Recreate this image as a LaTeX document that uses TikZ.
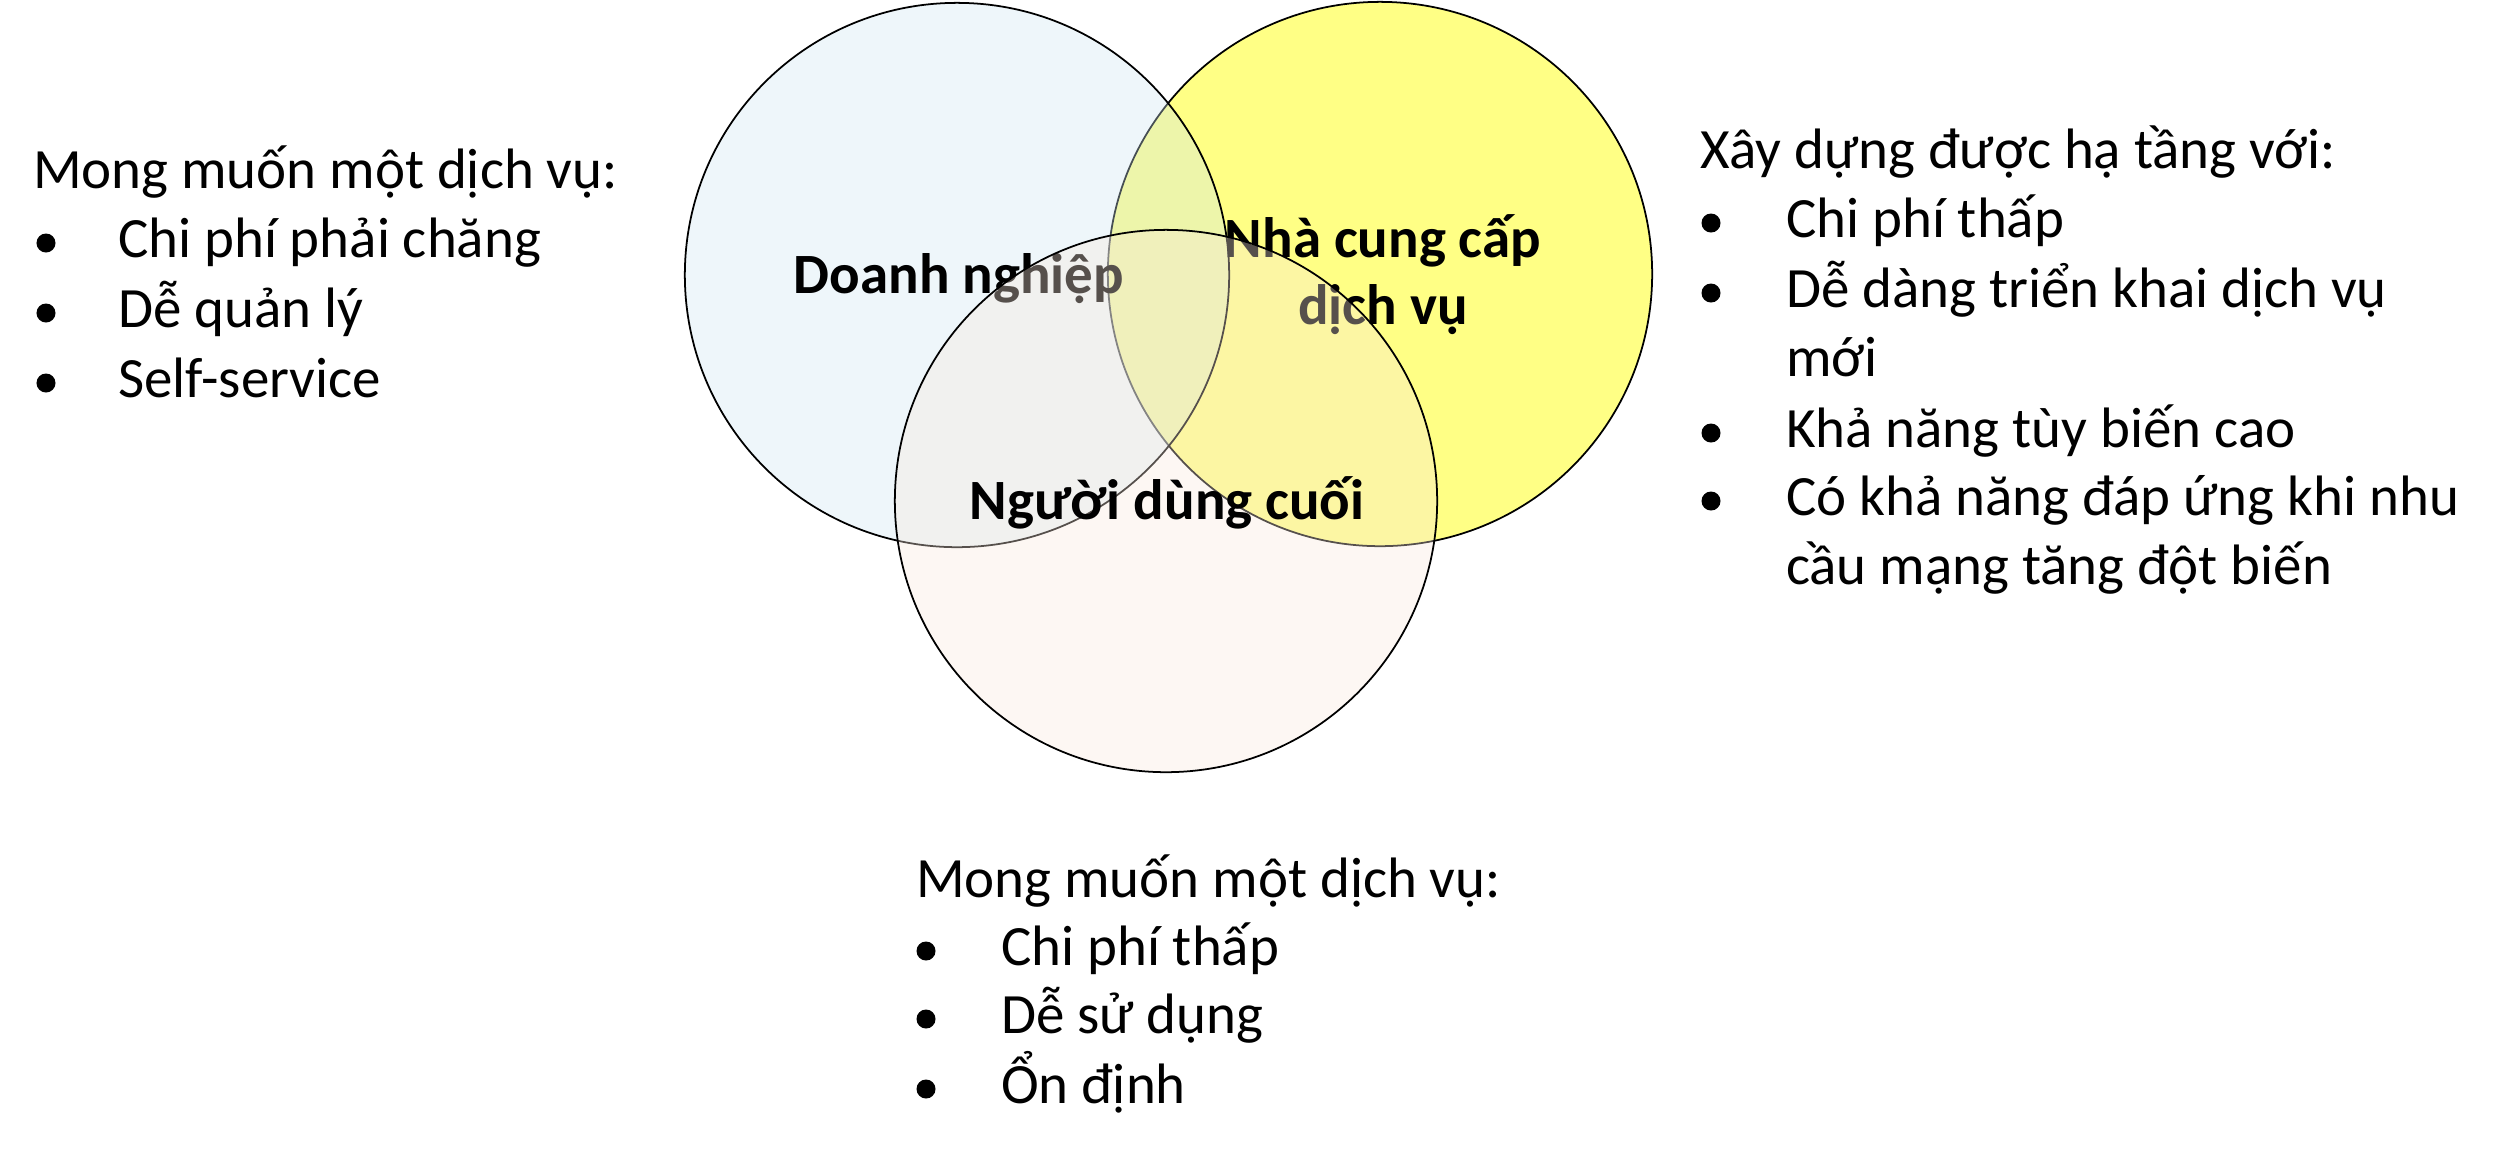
\documentclass[tikz,border=0pt]{standalone}
\usepackage{fontspec}
\setmainfont{Carlito}
\definecolor{ylw}{RGB}{255,255,133}
\definecolor{blu}{RGB}{206,229,241}
\definecolor{pch}{RGB}{248,232,220}
\begin{document}
\begin{tikzpicture}[x=0.01cm,y=-0.01cm,
  every node/.style={inner sep=0pt,outer sep=0pt},
  txt/.style={anchor=base west,font=\fontsize{16.2pt}{19.9pt}\selectfont},
  lbl/.style={anchor=base,align=center,font=\fontsize{16.2pt}{18.8pt}\selectfont\bfseries},
  blt/.style={circle,fill=black,minimum size=0.19cm},
  venn/.style={draw=black,line width=0.5pt}]
\useasboundingbox (0,0) rectangle (2500,1150);
% circles and labels, in stacking order
\draw[venn,fill=ylw] (1380,274) circle[radius=2.72cm];
\node[lbl] (ncc) at (1383,324) {Nhà cung cấp\\dịch vụ};
\draw[venn,fill=blu,fill opacity=0.35] (957,275) circle[radius=2.72cm];
\node[lbl] (dn) at (959,293) {Doanh nghiệp};
\draw[venn,fill=pch,fill opacity=0.35] (1166,501) circle[radius=2.71cm];
\node[lbl] (ndc) at (1167,519) {Người dùng cuối};
% left block
\node[txt] (l0) at (33,188) {Mong muốn một dịch vụ:};
\node[blt] (lb1) at (46,243) {};
\node[txt] (l1) at (118,257) {Chi phí phải chăng};
\node[blt] (lb2) at (46,313) {};
\node[txt] (l2) at (118,327) {Dễ quản lý};
\node[blt] (lb3) at (46,383) {};
\node[txt] (l3) at (118,397) {Self-service};
% right block
\node[txt] (r0) at (1700,168) {Xây dựng được hạ tầng với:};
\node[blt] (rb1) at (1711,223) {};
\node[txt] (r1) at (1786,237) {Chi phí thấp};
\node[blt] (rb2) at (1711,293) {};
\node[txt] (r2) at (1786,307) {Dễ dàng triển khai dịch vụ};
\node[txt] (r2b) at (1786,376) {mới};
\node[blt] (rb3) at (1711,433) {};
\node[txt] (r3) at (1786,447) {Khả năng tùy biến cao};
\node[blt] (rb4) at (1711,501) {};
\node[txt] (r4) at (1786,515) {Có khả năng đáp ứng khi nhu};
\node[txt] (r4b) at (1786,584) {cầu mạng tăng đột biến};
% bottom block
\node[txt] (b0) at (916,897) {Mong muốn một dịch vụ:};
\node[blt] (bb1) at (926,951) {};
\node[txt] (b1) at (1001,965) {Chi phí thấp};
\node[blt] (bb2) at (926,1019) {};
\node[txt] (b2) at (1001,1033) {Dễ sử dụng};
\node[blt] (bb3) at (926,1089) {};
\node[txt] (b3) at (1001,1103) {Ổn định};
\end{tikzpicture}
\end{document}
